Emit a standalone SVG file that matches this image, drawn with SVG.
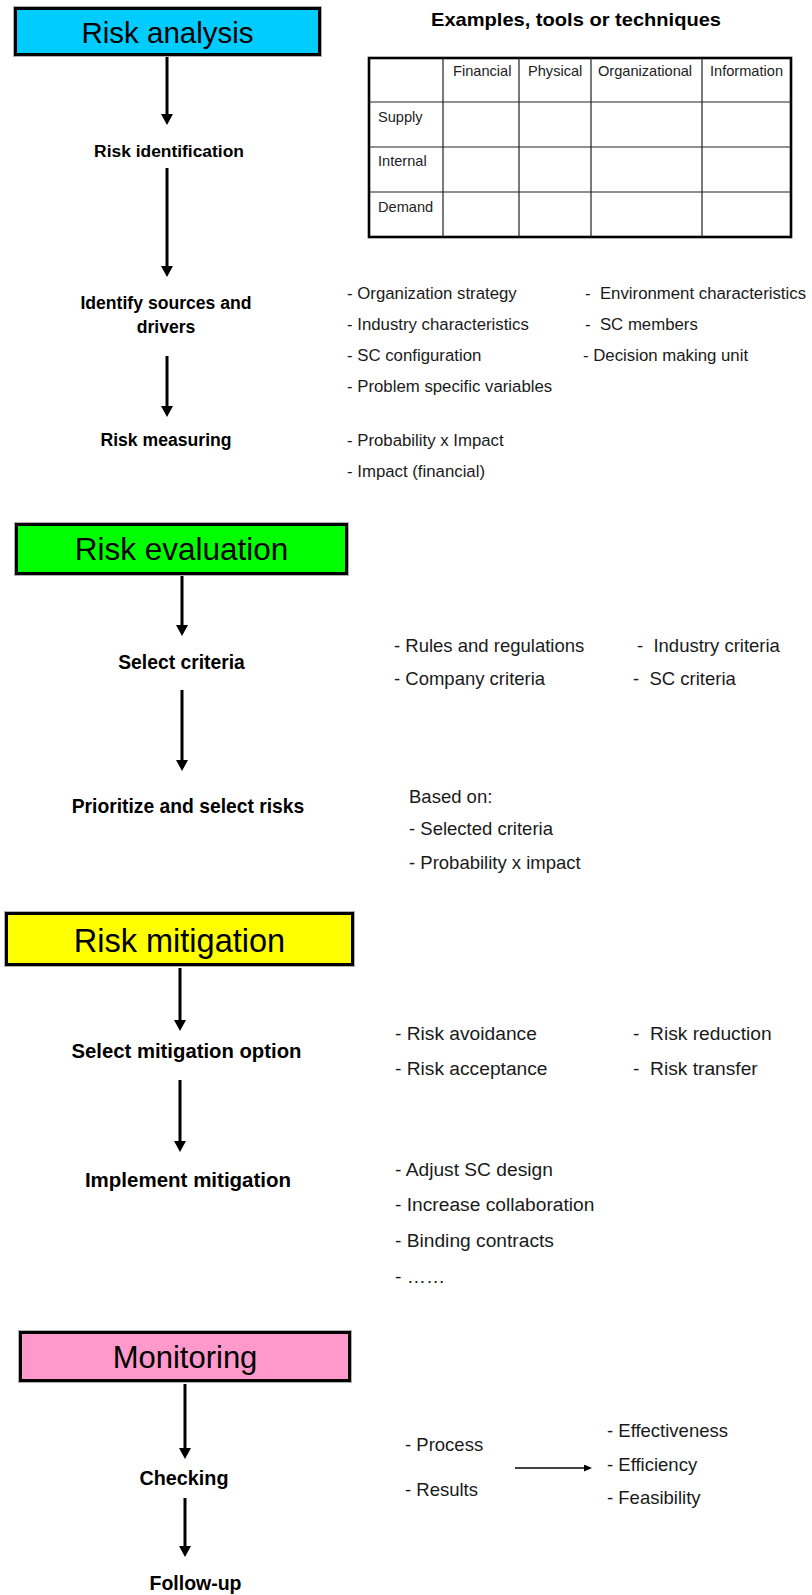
<svg xmlns="http://www.w3.org/2000/svg" width="812" height="1595" viewBox="0 0 812 1595">
  <style>
    text { font-family: "Liberation Sans", Arial, sans-serif; fill: #000; }
    .phase { stroke: #000; stroke-width: 3; }
    .halo { fill: none; stroke: #b0b0b0; stroke-width: 1; }
    .title { text-anchor: middle; }
    .step { font-weight: bold; text-anchor: middle; }
    .item { fill: #1a1a1a; }
    .s1 { font-size: 16.8px; }
    .s2 { font-size: 18.5px; }
    .s3 { font-size: 19.2px; }
    .cell { font-size: 14.6px; fill: #222; }
    .grid { stroke: #222; stroke-width: 1.2; fill: none; }
    .frame { stroke: #000; stroke-width: 2.6; fill: none; }
    .flow { stroke: #000; stroke-width: 3; fill: none; marker-end: url(#head); }
    .thin { stroke: #000; stroke-width: 1.3; fill: none; marker-end: url(#headSmall); }
  </style>
  <defs>
    <marker id="head" markerUnits="userSpaceOnUse" markerWidth="11" markerHeight="12" viewBox="0 0 11 12" refX="0" refY="6" orient="auto">
      <path d="M0,0 L11,6 L0,12 z" fill="#000"/>
    </marker>
    <marker id="headSmall" markerUnits="userSpaceOnUse" markerWidth="8" markerHeight="7" viewBox="0 0 8 7" refX="0" refY="3.5" orient="auto">
      <path d="M0,0 L8,3.5 L0,7 z" fill="#000"/>
    </marker>
  </defs>

  <rect width="812" height="1595" fill="#fff"/>

  <!-- Phase headers -->
  <g id="risk-analysis">
    <rect class="halo" x="13.5" y="6.5" width="308" height="50"/>
    <rect class="phase" x="15.5" y="8.5" width="304" height="46" fill="#00ccff"/>
    <text class="title" x="167.5" y="43" font-size="29.5">Risk analysis</text>
  </g>
  <g id="risk-evaluation">
    <rect class="halo" x="14.5" y="522.5" width="334" height="53"/>
    <rect class="phase" x="16.5" y="524.5" width="330" height="49" fill="#00ff00"/>
    <text class="title" x="181.5" y="560" font-size="31.5">Risk evaluation</text>
  </g>
  <g id="risk-mitigation">
    <rect class="halo" x="4.5" y="911.5" width="350" height="55"/>
    <rect class="phase" x="6.5" y="913.5" width="346" height="51" fill="#ffff00"/>
    <text class="title" x="179.5" y="952" font-size="32.5">Risk mitigation</text>
  </g>
  <g id="monitoring">
    <rect class="halo" x="18.5" y="1330.5" width="333" height="52"/>
    <rect class="phase" x="20.5" y="1332.5" width="329" height="48" fill="#ff99cc"/>
    <text class="title" x="185" y="1368" font-size="31">Monitoring</text>
  </g>

  <!-- Process steps -->
  <g id="risk-identification"><text class="step" x="169" y="157" font-size="17.4">Risk identification</text></g>
  <g id="identify-sources">
    <text class="step" x="166" y="309" font-size="17.6">Identify sources and</text>
    <text class="step" x="166" y="333" font-size="17.6">drivers</text>
  </g>
  <g id="risk-measuring"><text class="step" x="166" y="446" font-size="17.6">Risk measuring</text></g>
  <g id="select-criteria"><text class="step" x="181.5" y="669" font-size="19.3">Select criteria</text></g>
  <g id="prioritize"><text class="step" x="188" y="813" font-size="19.3">Prioritize and select risks</text></g>
  <g id="select-mitigation"><text class="step" x="186.5" y="1058" font-size="20.3">Select mitigation option</text></g>
  <g id="implement-mitigation"><text class="step" x="188" y="1187" font-size="20.5">Implement mitigation</text></g>
  <g id="checking"><text class="step" x="184" y="1485" font-size="19.8">Checking</text></g>
  <g id="follow-up"><text class="step" x="195.5" y="1590" font-size="19.5">Follow-up</text></g>

  <!-- Connectors -->
  <g id="connectors">
    <line class="flow" x1="167" y1="57" x2="167" y2="114"/>
    <line class="flow" x1="167" y1="168" x2="167" y2="266"/>
    <line class="flow" x1="167" y1="356" x2="167" y2="406"/>
    <line class="flow" x1="182" y1="576" x2="182" y2="625"/>
    <line class="flow" x1="182" y1="690" x2="182" y2="760"/>
    <line class="flow" x1="180" y1="968" x2="180" y2="1020"/>
    <line class="flow" x1="180" y1="1080" x2="180" y2="1141"/>
    <line class="flow" x1="185" y1="1384" x2="185" y2="1448"/>
    <line class="flow" x1="185" y1="1498" x2="185" y2="1546"/>
    <line class="thin" x1="515" y1="1468" x2="584" y2="1468"/>
  </g>

  <!-- Classification grid -->
  <g id="examples-table">
    <text x="431" y="26" font-size="19" font-weight="bold" textLength="290" lengthAdjust="spacingAndGlyphs">Examples, tools or techniques</text>
    <rect class="frame" x="369" y="58" width="422" height="179" fill="#fff"/>
    <path class="grid" d="M443,58 V237 M519,58 V237 M591,58 V237 M702,58 V237 M369,102 H791 M369,147 H791 M369,192 H791"/>
    <text class="cell" x="453" y="76">Financial</text>
    <text class="cell" x="528" y="76">Physical</text>
    <text class="cell" x="598" y="76">Organizational</text>
    <text class="cell" x="710" y="76">Information</text>
    <text class="cell" x="378" y="122">Supply</text>
    <text class="cell" x="378" y="166">Internal</text>
    <text class="cell" x="378" y="212">Demand</text>
  </g>

  <!-- Sources and drivers -->
  <g id="drivers-list" class="s1">
    <text class="item s1" x="347" y="299">- Organization strategy</text>
    <text class="item s1" x="347" y="330">- Industry characteristics</text>
    <text class="item s1" x="347" y="361">- SC configuration</text>
    <text class="item s1" x="347" y="392">- Problem specific variables</text>
    <text class="item s1" x="585" y="299" xml:space="preserve">-  Environment characteristics</text>
    <text class="item s1" x="585" y="330" xml:space="preserve">-  SC members</text>
    <text class="item s1" x="583" y="361">- Decision making unit</text>
  </g>
  <g id="measuring-list">
    <text class="item s1" x="347" y="446">- Probability x Impact</text>
    <text class="item s1" x="347" y="477">- Impact (financial)</text>
  </g>

  <!-- Evaluation criteria -->
  <g id="criteria-list">
    <text class="item s2" x="394" y="652">- Rules and regulations</text>
    <text class="item s2" x="394" y="685">- Company criteria</text>
    <text class="item s2" x="637" y="652" xml:space="preserve">-  Industry criteria</text>
    <text class="item s2" x="633" y="685" xml:space="preserve">-  SC criteria</text>
  </g>
  <g id="priority-list">
    <text class="item s2" x="409" y="803">Based on:</text>
    <text class="item s2" x="409" y="835">- Selected criteria</text>
    <text class="item s2" x="409" y="869">- Probability x impact</text>
  </g>

  <!-- Mitigation options -->
  <g id="options-list">
    <text class="item s3" x="395" y="1040">- Risk avoidance</text>
    <text class="item s3" x="395" y="1075">- Risk acceptance</text>
    <text class="item s3" x="633" y="1040" xml:space="preserve">-  Risk reduction</text>
    <text class="item s3" x="633" y="1075" xml:space="preserve">-  Risk transfer</text>
  </g>
  <g id="actions-list">
    <text class="item s3" x="395" y="1176">- Adjust SC design</text>
    <text class="item s3" x="395" y="1211">- Increase collaboration</text>
    <text class="item s3" x="395" y="1247">- Binding contracts</text>
    <text class="item s3" x="395" y="1283">- ……</text>
  </g>

  <!-- Monitoring aspects -->
  <g id="checks-list">
    <text class="item s2" x="405" y="1451">- Process</text>
    <text class="item s2" x="405" y="1496">- Results</text>
    <text class="item s2" x="607" y="1437">- Effectiveness</text>
    <text class="item s2" x="607" y="1471">- Efficiency</text>
    <text class="item s2" x="607" y="1504">- Feasibility</text>
  </g>
</svg>
